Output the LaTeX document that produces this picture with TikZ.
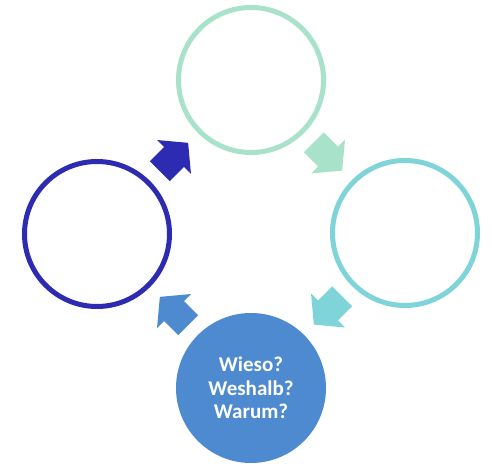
\documentclass[tikz,border=0pt]{standalone}
\usepackage{fontspec}
\setmainfont{Carlito}
\usetikzlibrary{calc}
\definecolor{mint}{HTML}{A9E2CA}
\definecolor{teal}{HTML}{7ED4D8}
\definecolor{midblue}{HTML}{4E8ACF}
\definecolor{darkblue}{HTML}{2E2BB3}
\begin{document}
\begin{tikzpicture}[x=1pt,y=1pt,
  ringnode/.style={circle, minimum size=145pt, inner sep=0pt, line width=5pt, fill=white},
  discnode/.style={circle, minimum size=150pt, inner sep=0pt, fill=midblue, text=white,
    align=center, font=\bfseries\fontsize{21}{23.5}\selectfont},
  blockarrow/.pic={\fill[pic actions] (-20,-14) -- (0,-14) -- (0,-24) -- (20,0) -- (0,24) -- (0,14) -- (-20,14) -- cycle;}]
\useasboundingbox (0,0) rectangle (492,463);
\node[ringnode, draw=mint] (top) at (251,383) {};
\node[ringnode, draw=teal] (right) at (405,230) {};
\node[discnode] (bottom) at (251,75) {Wieso?\\Weshalb?\\Warum?};
\node[ringnode, draw=darkblue] (left) at (97,229) {};
\coordinate (m1) at ($(top)!0.5!(right)$);
\coordinate (m2) at ($(right)!0.5!(bottom)$);
\coordinate (m3) at ($(bottom)!0.5!(left)$);
\coordinate (m4) at ($(left)!0.5!(top)$);
\pic[fill=mint, rotate=-45] (a1) at (m1) {blockarrow};
\pic[fill=teal, rotate=-135] (a2) at (m2) {blockarrow};
\pic[fill=midblue, rotate=135] (a3) at (m3) {blockarrow};
\pic[fill=darkblue, rotate=45] (a4) at (m4) {blockarrow};
\end{tikzpicture}
\end{document}
